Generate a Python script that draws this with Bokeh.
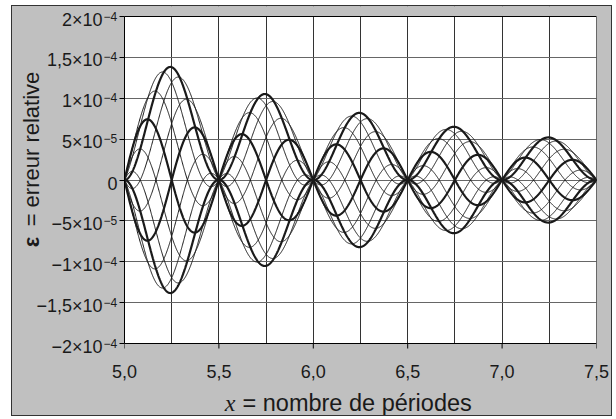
import numpy as np
from bokeh.plotting import figure
from bokeh.layouts import column, row
from bokeh.models import FixedTicker, Range1d, BoxAnnotation
from bokeh.core.properties import value
from bokeh.embed import file_html
from bokeh.resources import INLINE

# Peak |ε| of each half-period lobe and where it occurs
lobe_centres = [5.25, 5.75, 6.25, 6.75, 7.25]
lobe_peaks = [1.38e-4, 1.05e-4, 0.82e-4, 0.65e-4, 0.52e-4]
lobe_width = 0.5

# Starting phases (degrees) of the plotted family; the bold ones are drawn thicker
phases_deg = [0, 30, 60, 90, 120, 150, 180, 210, 240, 270, 300, 330]
bold_phases_deg = [0, 90, 180, 270]

x_min, x_max = 5.0, 7.5
y_min, y_max = -2e-4, 2e-4
x_ticks = [5.0, 5.5, 6.0, 6.5, 7.0, 7.5]
x_tick_labels = ["5,0", "5,5", "6,0", "6,5", "7,0", "7,5"]
x_grid = [5.0, 5.25, 5.5, 5.75, 6.0, 6.25, 6.5, 6.75, 7.0, 7.25, 7.5]
y_ticks = [-2e-4, -1.5e-4, -1e-4, -5e-5, 0, 5e-5, 1e-4, 1.5e-4, 2e-4]
# mantissa part and power-of-ten exponent of each y tick label
y_tick_mantissas = ["\u22122\u00d710", "\u22121,5\u00d710", "\u22121\u00d710",
                    "\u22125\u00d710", "0", "5\u00d710", "1\u00d710",
                    "1,5\u00d710", "2\u00d710"]
y_tick_exponents = ["\u22124", "\u22124", "\u22124", "\u22125", "",
                    "\u22125", "\u22124", "\u22124", "\u22124"]

GREY = "#c0c0c0"
INK = "#1a1a1a"
SANS = value("Liberation Sans")

# Panel geometry (pixels)
LEFT_W, MAIN_W, TOP_H, BOTTOM_H = 106, 493, 352, 57
PLOT_W, PLOT_H = 472, 327
PAD_TOP = 10                              # grey space above the plot area
PAD_BOTTOM = TOP_H - PAD_TOP - PLOT_H     # grey space below it, inside the top row
TICK_LEN = 5
px_x = (x_max - x_min) / PLOT_W
px_y = (y_max - y_min) / PLOT_H

# Both top-row panels use the same vertical scale, padded to the full row height
y_range = Range1d(y_min - PAD_BOTTOM * px_y, y_max + PAD_TOP * px_y)


def bare(fig):
    fig.xaxis.visible = False
    fig.yaxis.visible = False
    fig.xgrid.visible = False
    fig.ygrid.visible = False
    fig.outline_line_color = None
    fig.min_border = 0
    return fig


# ---- main chart ----
p = figure(width=MAIN_W, height=TOP_H, x_range=(x_min, x_max), y_range=y_range,
           title=None, output_backend="svg", toolbar_location=None,
           min_border_left=6, min_border_right=15, min_border_top=0,
           min_border_bottom=0, background_fill_color=GREY,
           border_fill_color=GREY, outline_line_color=None, margin=0)

# white plotting area
p.add_layout(BoxAnnotation(left=x_min, right=x_max, bottom=y_min, top=y_max,
                           fill_color="white", fill_alpha=1, line_color=None,
                           level="image"))

p.xgrid.ticker = FixedTicker(ticks=x_grid)
p.xgrid.grid_line_color = "#333333"
p.ygrid.ticker = FixedTicker(ticks=y_ticks)
p.ygrid.grid_line_color = "#666666"

# keep the grey padding free of grid lines, then outline the plotting area
p.add_layout(BoxAnnotation(left=x_min, right=x_max, bottom=y_max, top=y_range.end,
                           fill_color=GREY, fill_alpha=1, line_color=None,
                           level="underlay"))
p.add_layout(BoxAnnotation(left=x_min, right=x_max, bottom=y_range.start, top=y_min,
                           fill_color=GREY, fill_alpha=1, line_color=None,
                           level="underlay"))
p.add_layout(BoxAnnotation(left=x_min, right=x_max, bottom=y_min, top=y_max,
                           fill_color=None, line_color="black", line_alpha=1,
                           line_width=1, level="underlay"))

p.yaxis.ticker = FixedTicker(ticks=y_ticks)
p.yaxis.bounds = (y_min, y_max)
p.yaxis.axis_line_color = "black"
p.yaxis.major_tick_line_color = "black"
p.yaxis.major_tick_out = TICK_LEN
p.yaxis.major_tick_in = 0
p.yaxis.minor_tick_line_color = None
p.yaxis.major_label_text_color = None
p.yaxis.major_label_standoff = 0
p.xaxis.visible = False

# x tick marks below the plotting area
p.segment(x0=x_ticks, y0=[y_min] * len(x_ticks), x1=x_ticks,
          y1=[y_min - TICK_LEN * px_y] * len(x_ticks), line_color="black",
          line_width=1)

# Family of error curves: each lobe scaled by its peak, decaying as 1/x^3
x = np.linspace(x_min, x_max, 1501)
lobe = np.clip(((x - x_min) // lobe_width).astype(int), 0, len(lobe_peaks) - 1)
amp = np.array(lobe_peaks)[lobe] * (np.array(lobe_centres)[lobe] / x) ** 3
base = amp * np.sin(2 * np.pi * x)

for deg in phases_deg:
    if deg in bold_phases_deg:
        continue
    phi = np.deg2rad(deg)
    p.line(x, base * np.cos(2 * np.pi * x + phi), line_color=INK, line_width=1)
for deg in bold_phases_deg:
    phi = np.deg2rad(deg)
    p.line(x, base * np.cos(2 * np.pi * x + phi), line_color=INK, line_width=2.2)

# ---- left strip: y tick labels and y title (same y scale as the chart) ----
left = bare(figure(width=LEFT_W, height=TOP_H, x_range=(0, LEFT_W), y_range=y_range,
                   title=None, output_backend="svg", toolbar_location=None,
                   background_fill_color=GREY, border_fill_color=GREY, margin=0))

yt = np.array(y_ticks)
has_exp = [bool(e) for e in y_tick_exponents]
mant_x = [90 if e else 105 for e in has_exp]
left.text(x=mant_x, y=list(yt - 3 * px_y), text=y_tick_mantissas,
          text_align="right", text_baseline="middle", text_font=SANS,
          text_font_size="18px", text_color=INK)
exp_idx = [i for i, e in enumerate(has_exp) if e]
left.text(x=[91] * len(exp_idx), y=[y_ticks[i] + 0.5 * px_y for i in exp_idx],
          text=[y_tick_exponents[i] for i in exp_idx], text_align="left",
          text_baseline="middle", text_font=SANS, text_font_size="12px",
          text_color=INK)

# y title: bold epsilon followed by the rest, reading upwards
left.text(x=[19], y=[-62 * px_y], text=["\u03b5"], angle=np.pi / 2,
          text_align="center", text_baseline="middle", text_font=SANS,
          text_font_style="bold", text_font_size="22px", text_color=INK)
left.text(x=[19], y=[31 * px_y], text=["= erreur relative"], angle=np.pi / 2,
          text_align="center", text_baseline="middle", text_font=SANS,
          text_font_size="22px", text_color=INK)

# ---- bottom strip: x tick labels and x title (same x scale as the chart) ----
x_start = x_min - (LEFT_W + 6) * px_x
x_end = x_start + (LEFT_W + MAIN_W) * px_x
bottom = bare(figure(width=LEFT_W + MAIN_W, height=BOTTOM_H,
                     x_range=Range1d(x_start, x_end), y_range=(0, BOTTOM_H),
                     title=None, output_backend="svg", toolbar_location=None,
                     background_fill_color=GREY, border_fill_color=GREY, margin=0))

bottom.text(x=x_ticks, y=[44] * len(x_ticks), text=x_tick_labels,
            text_align="center", text_baseline="middle", text_font=SANS,
            text_font_size="18px", text_color=INK)
bottom.text(x=[x_start + 223 * px_x], y=[13], text=["x"], text_align="right",
            text_baseline="middle", text_font=value("Liberation Serif"),
            text_font_style="italic", text_font_size="24px", text_color=INK)
bottom.text(x=[x_start + 230 * px_x], y=[13], text=["= nombre de périodes"],
            text_align="left", text_baseline="middle", text_font=SANS,
            text_font_size="23.5px", text_color=INK)

layout = column(row(left, p, spacing=0), bottom, spacing=0, margin=(5, 0, 0, 11),
                styles={"border": "1px solid #333333", "background-color": GREY})

open("out.html", "w").write(file_html(layout, INLINE))
